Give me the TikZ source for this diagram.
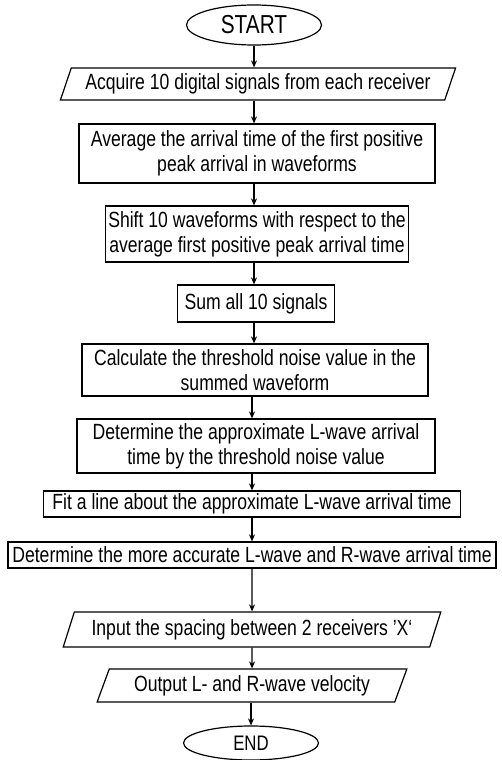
\documentclass[tikz,border=0pt]{standalone}
\usepackage{fontspec}
\setmainfont{Liberation Sans}[FakeStretch=0.8]
\usetikzlibrary{%
  shapes, shapes.geometric, arrows.meta,
  calc, positioning,
}

\begin{document}
\begin{tikzpicture}[
  x=1pt, y=-1pt,
  term/.style={ellipse, draw, line width=1.2pt, minimum width=135pt,
    inner sep=0pt},
  proc/.style={rectangle, draw, line width=1.2pt, align=center,
    inner xsep=3pt, inner ysep=1pt,
    font=\fontsize{22}{25}\selectfont},
  io/.style={trapezium, trapezium left angle=64, trapezium right angle=116,
    trapezium stretches=true, draw, line width=1.2pt, inner sep=0pt,
    font=\fontsize{22}{25}\selectfont},
  farr/.style={-{Stealth[length=7pt,width=6pt]}, line width=1.1pt},
]
\useasboundingbox (0,0) rectangle (501,760);
%% Terminals and steps
\node[term, minimum height=40pt, font=\fontsize{26}{30}\selectfont]
  (start) at (254, 25) {START};
\node[io, minimum width=396pt, minimum height=32pt]
  (acq) at (258, 84) {Acquire 10 digital signals from each receiver};
\node[proc, minimum width=356pt, minimum height=59pt]
  (avg) at (257, 153.5)
  {Average the arrival time of the first positive\\peak arrival in waveforms};
\node[proc, minimum width=302pt, minimum height=56pt]
  (shift) at (257, 234)
  {Shift 10 waveforms with respect to the\\average first positive peak arrival time};
\node[proc, minimum width=157pt, minimum height=37pt]
  (sum) at (256, 303.5) {Sum all 10 signals};
\node[proc, minimum width=346pt, minimum height=52pt]
  (calc) at (255, 370)
  {Calculate the threshold noise value in the\\summed waveform};
\node[proc, minimum width=358pt, minimum height=54pt]
  (approx) at (256, 446)
  {Determine the approximate L-wave arrival\\time by the threshold noise value};
\node[proc, minimum width=417pt, minimum height=26pt]
  (fit) at (252, 504) {Fit a line about the approximate L-wave arrival time};
\node[proc, minimum width=488pt, minimum height=26pt]
  (accur) at (252, 555)
  {Determine the more accurate L-wave and R-wave arrival time};
\node[io, minimum width=378pt, minimum height=35pt]
  (spacing) at (252, 629.5) {Input the spacing between 2 receivers 'X‘};
\node[io, minimum width=310pt, minimum height=33pt]
  (velo) at (252, 685.5) {Output L- and R-wave velocity};
\node[term, minimum height=34pt, font=\fontsize{21}{24}\selectfont]
  (end) at (251, 743) {END};
%% Flow arrows
\draw[farr] (start.south) -- (start.south |- acq.north);
\draw[farr] (acq.south -| start.south) -- (start.south |- avg.north);
\draw[farr] (avg.south -| start.south) -- (start.south |- shift.north);
\draw[farr] (shift.south -| start.south) -- (start.south |- sum.north);
\draw[farr] (sum.south -| start.south) -- (start.south |- calc.north);
\draw[farr] (calc.south -| fit.north) -- (fit.north |- approx.north);
\draw[farr] (approx.south -| fit.north) -- (fit.north);
\draw[farr] (fit.south) -- (accur.north);
\draw[farr] (accur.south) -- (spacing.north);
\draw[farr] (spacing.south) -- (velo.north);
\draw[farr] (velo.south -| end.north) -- (end.north);
\end{tikzpicture}
\end{document}
